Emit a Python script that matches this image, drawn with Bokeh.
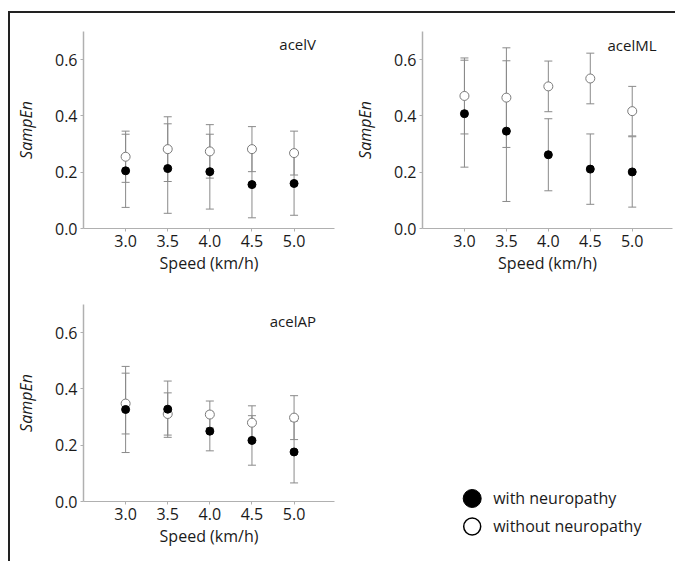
from bokeh.plotting import figure
from bokeh.models import (ColumnDataSource, Whisker, TeeHead, Label, Range1d,
                          FixedTicker, NumeralTickFormatter)
from bokeh.layouts import row, column
from bokeh.embed import file_html
from bokeh.resources import INLINE
from bokeh.core.properties import value

# ---------------- data ----------------
speeds = [3.0, 3.5, 4.0, 4.5, 5.0]
y_ticks = [0.0, 0.2, 0.4, 0.6]

acelV_with = [0.205, 0.213, 0.202, 0.156, 0.160]
acelV_with_sd = [0.130, 0.159, 0.133, 0.118, 0.113]
acelV_without = [0.255, 0.282, 0.274, 0.282, 0.268]
acelV_without_sd = [0.091, 0.115, 0.095, 0.080, 0.078]

acelML_with = [0.408, 0.346, 0.262, 0.211, 0.201]
acelML_with_sd = [0.190, 0.250, 0.128, 0.125, 0.125]
acelML_without = [0.471, 0.465, 0.505, 0.533, 0.417]
acelML_without_sd = [0.135, 0.177, 0.090, 0.090, 0.088]

acelAP_with = [0.327, 0.328, 0.250, 0.217, 0.176]
acelAP_with_sd = [0.153, 0.100, 0.070, 0.088, 0.110]
acelAP_without = [0.348, 0.311, 0.309, 0.280, 0.298]
acelAP_without_sd = [0.108, 0.075, 0.048, 0.060, 0.078]

legend_labels = ["with neuropathy", "without neuropathy"]

FONT = "Open Sans"
BAR_COLOR = "#8a8a8a"
AXIS_COLOR = "#b0b0b0"
TEXT_COLOR = "#1a1a1a"


def make_panel(name, w_vals, w_sd, wo_vals, wo_sd, width, height,
               bl, br, bt, bb, label_xy):
    p = figure(width=width, height=height, x_range=Range1d(2.5, 5.48),
               y_range=Range1d(0.0, 0.7), toolbar_location=None,
               output_backend="svg", min_border_left=bl, min_border_right=br,
               min_border_top=bt, min_border_bottom=bb)
    p.grid.grid_line_color = None
    p.outline_line_color = None

    for vals, sd in ((wo_vals, wo_sd), (w_vals, w_sd)):
        src = ColumnDataSource(dict(
            x=speeds, y=vals,
            lower=[v - s for v, s in zip(vals, sd)],
            upper=[v + s for v, s in zip(vals, sd)]))
        wh = Whisker(base="x", lower="lower", upper="upper", source=src,
                     line_color=BAR_COLOR, line_width=1,
                     upper_head=TeeHead(size=8, line_color=BAR_COLOR, line_width=1),
                     lower_head=TeeHead(size=8, line_color=BAR_COLOR, line_width=1))
        p.add_layout(wh)

    p.scatter(x=speeds, y=wo_vals, size=9, marker="circle", fill_color="white",
              line_color="#7a7a7a", line_width=1)
    p.scatter(x=speeds, y=w_vals, size=8, marker="circle", fill_color="black",
              line_color="black", line_width=1)

    p.xaxis.ticker = FixedTicker(ticks=speeds)
    p.yaxis.ticker = FixedTicker(ticks=y_ticks)
    p.xaxis.formatter = NumeralTickFormatter(format="0.0")
    p.yaxis.formatter = NumeralTickFormatter(format="0.0")
    for ax in (p.xaxis, p.yaxis):
        ax.axis_line_color = AXIS_COLOR
        ax.major_tick_line_color = AXIS_COLOR
        ax.minor_tick_line_color = None
        ax.major_tick_in = 0
        ax.major_tick_out = 3
        ax.major_label_standoff = 3
        ax.major_label_text_font = FONT
        ax.major_label_text_font_size = "16px"
        ax.major_label_text_color = TEXT_COLOR
        ax.axis_label_text_font = FONT
        ax.axis_label_text_font_size = "16px"
        ax.axis_label_text_color = TEXT_COLOR
    p.yaxis.axis_line_width = 1.5
    p.xaxis.axis_label = "Speed (km/h)"
    p.xaxis.axis_label_text_font_style = "normal"
    p.xaxis.axis_label_standoff = 2
    p.yaxis.axis_label = "SampEn"
    p.yaxis.axis_label_text_font_style = "italic"
    p.yaxis.axis_label_standoff = 15

    p.add_layout(Label(x=label_xy[0], y=label_xy[1], text=name,
                       text_align="right", text_baseline="middle",
                       text_font=FONT, text_font_size="15px",
                       text_color=TEXT_COLOR))
    return p


pA = make_panel("acelV", acelV_with, acelV_with_sd, acelV_without,
                acelV_without_sd, 339, 272, 73, 15, 18, 57, (5.26, 0.654))
pB = make_panel("acelML", acelML_with, acelML_with_sd, acelML_without,
                acelML_without_sd, 326, 272, 73, 3, 18, 57, (5.29, 0.653))
pC = make_panel("acelAP", acelAP_with, acelAP_with_sd, acelAP_without,
                acelAP_without_sd, 339, 276, 73, 15, 19, 60, (5.26, 0.641))

# legend panel
pD = figure(width=326, height=276, x_range=Range1d(-49.7, 200.3),
            y_range=Range1d(-2.25, 7.607), toolbar_location=None,
            output_backend="svg", x_axis_location=None, y_axis_location=None,
            min_border_left=73, min_border_right=3, min_border_top=0,
            min_border_bottom=0)
pD.grid.grid_line_color = None
pD.outline_line_color = None
rows_y = [-i for i in range(len(legend_labels))]
pD.scatter(x=[0], y=rows_y[:1], size=18, marker="circle", fill_color="black",
           line_color="black")
pD.scatter(x=[0], y=rows_y[1:], size=17, marker="circle", fill_color="white",
           line_color="black", line_width=1.5)
pD.text(x=[0] * len(legend_labels), y=rows_y, text=legend_labels, x_offset=21,
        text_baseline="middle", text_align="left", text_font=value(FONT),
        text_font_size="16px", text_color=TEXT_COLOR)

layout = row(column(pA, pC), column(pB, pD),
             styles={"border-top": "2px solid #222",
                     "border-left": "2px solid #222",
                     "margin-top": "11px", "margin-left": "8px"})

open("out.html", "w").write(file_html(layout, INLINE))
